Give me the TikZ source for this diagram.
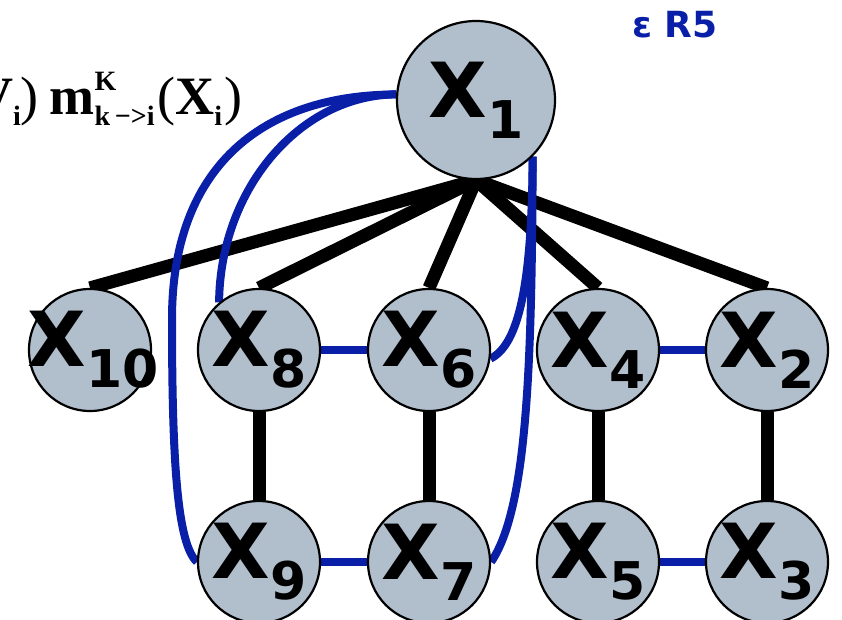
\documentclass[tikz,border=0pt]{standalone}
\usepackage{fontspec}
\setmainfont{Liberation Serif}
\newfontfamily\nodefont{DejaVu Sans}
\usetikzlibrary{backgrounds}
\definecolor{nodegray}{HTML}{B1BFCD}
\definecolor{msgblue}{HTML}{0A1FA8}
\newcommand{\xlab}[1]{X\raisebox{-0.28em}{\fontsize{52}{52}\selectfont #1}}
\newcommand{\scr}[1]{{\fontsize{28}{28}\selectfont #1}}

\begin{document}
\begin{tikzpicture}[x=1pt,y=1pt,
	var/.style={circle,draw=black,line width=2.2pt,fill=nodegray,minimum size=122pt,
	  inner sep=0pt,font=\nodefont\bfseries\fontsize{76}{76}\selectfont},
	link/.style={line width=13pt},
	msg/.style={draw=msgblue,line width=8pt}]
	\useasboundingbox (0,0) rectangle (842,619);
	\clip (0,0) rectangle (842,619);

	%top variable
	\node[var,minimum size=158pt] (x1) at (476,519) {\xlab{1}};

	%first row
	\node[var] (x10) at (90,269) {\makebox[0pt]{\hspace{6pt}\xlab{10}}};
	\node[var] (x8) at (259,269) {\xlab{8}};
	\node[var] (x6) at (429,269) {\xlab{6}};
	\node[var] (x4) at (598,269) {\xlab{4}};
	\node[var] (x2) at (767,269) {\xlab{2}};

	%second row
	\node[var] (x9) at (259,57) {\xlab{9}};
	\node[var] (x7) at (429,57) {\xlab{7}};
	\node[var] (x5) at (598,57) {\xlab{5}};
	\node[var] (x3) at (767,57) {\xlab{3}};

	%labels
	\node[anchor=base west,inner sep=0pt,font=\bfseries\fontsize{54}{54}\selectfont] (formula) at (-26,504)
	  {V\raisebox{-0.2em}{\scr{i}}{\mdseries)}\hspace{0.2em}m\rlap{\raisebox{0.46em}{\scr{K}}}\raisebox{-0.2em}{\scr{k\,−>i}}\hspace{0.05em}{\mdseries(}X\raisebox{-0.2em}{\scr{i}}\hspace{0.05em}{\mdseries)}};
	\node[text=msgblue,font=\nodefont\bfseries\fontsize{36}{36}\selectfont] (region) at (675,594) {ε R5};

	\begin{scope}[on background layer]
	%black edges
	\foreach \v in {x10,x8,x6,x4,x2}
	  \draw[link] (x1.south) -- (\v.north);
	\draw[link] (x8) -- (x9); %8-9
	\draw[link] (x6) -- (x7); %6-7
	\draw[link] (x4) -- (x5); %4-5
	\draw[link] (x2) -- (x3); %2-3

	%blue edges
	\draw[msg] (x8) -- (x6);
	\draw[msg] (x4) -- (x2);
	\draw[msg] (x9) -- (x7);
	\draw[msg] (x5) -- (x3);

	%blue curves
	\draw[msg] (x1.176) .. controls (260,524) and (172,450) .. (172,300)
	  .. controls (172,150) and (178,75) .. (x9.west); %1 to 9
	\draw[msg] (x1.176) .. controls (300,524) and (220,430) .. (x8.130); %1 to 8
	\draw[msg] (x1.-45) .. controls (532,340) and (520,275) .. (x6.-8); %1 to 6
	\draw[msg] (x1.-45) .. controls (532,250) and (527,110) .. (x7.east); %1 to 7
	\end{scope}
\end{tikzpicture}
\end{document}
